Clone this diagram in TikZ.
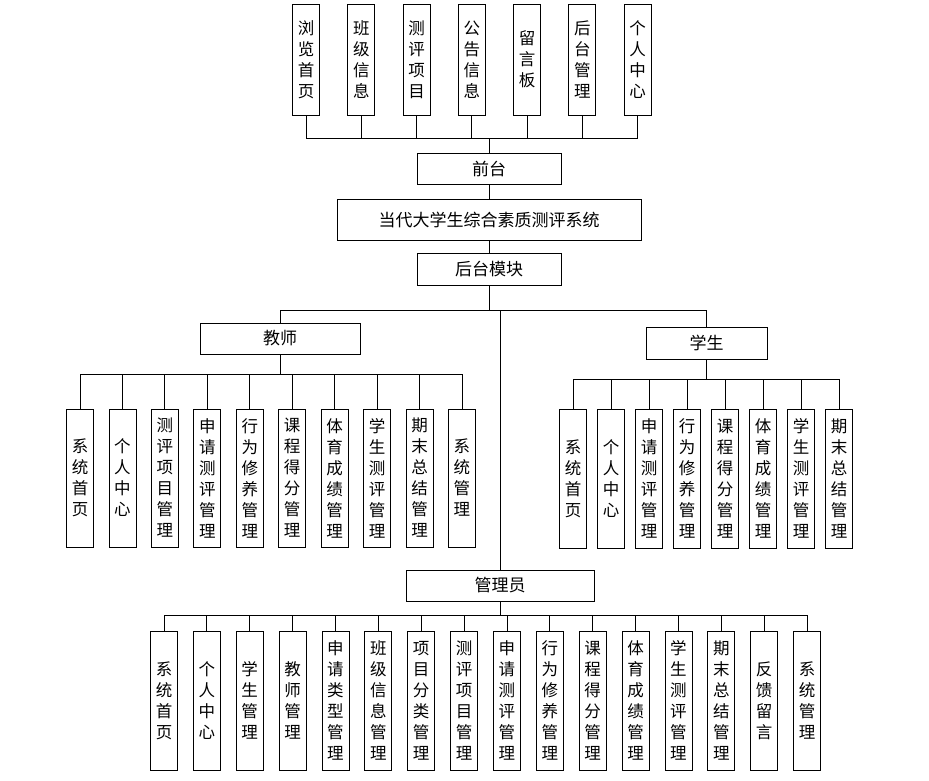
\documentclass[tikz,border=0pt]{standalone}
\usepackage{fontspec}
\newfontfamily\cjk{Noto Sans CJK SC}
\begin{document}
\begin{tikzpicture}[x=1pt,y=-1pt,line width=.8pt,
  vbox/.style={draw,minimum width=27,minimum height=139,inner sep=0pt,align=center,
    font=\cjk\fontsize{16.5}{21}\selectfont},
  hbox/.style={draw,inner sep=0pt,font=\cjk\fontsize{17}{21}\selectfont}]
\useasboundingbox (0,0) rectangle (929,780);
\node[hbox,minimum width=144,minimum height=31] (front) at (489,168.5) {前台};
\node[hbox,minimum width=304,minimum height=41] (sys) at (489,219.5) {当代大学生综合素质测评系统};
\node[hbox,minimum width=144,minimum height=32] (back) at (489,269) {后台模块};
\node[hbox,minimum width=160,minimum height=31] (teacher) at (280,338.5) {教师};
\node[hbox,minimum width=121,minimum height=32] (student) at (706.5,343) {学生};
\node[hbox,minimum width=188,minimum height=31] (admin) at (500,585.5) {管理员};
\foreach \t [count=\i] in {浏\\览\\首\\页,班\\级\\信\\息,测\\评\\项\\目,公\\告\\信\\息,
    留\\言\\板,后\\台\\管\\理,个\\人\\中\\心}
  \node[vbox,minimum height=111] (t\i) at ({306+55.25*(\i-1)},59.5) {\t};
\foreach \t [count=\i] in {系\\统\\首\\页,个\\人\\中\\心,测\\评\\项\\目\\管\\理,
    申\\请\\测\\评\\管\\理,行\\为\\修\\养\\管\\理,课\\程\\得\\分\\管\\理,
    体\\育\\成\\绩\\管\\理,学\\生\\测\\评\\管\\理,期\\末\\总\\结\\管\\理,系\\统\\管\\理}
  \node[vbox,minimum height=138] (te\i) at ({80+42.44*(\i-1)},478) {\t};
\foreach \t [count=\i] in {系\\统\\首\\页,个\\人\\中\\心,申\\请\\测\\评\\管\\理,
    行\\为\\修\\养\\管\\理,课\\程\\得\\分\\管\\理,体\\育\\成\\绩\\管\\理,
    学\\生\\测\\评\\管\\理,期\\末\\总\\结\\管\\理}
  \node[vbox] (st\i) at ({573+38*(\i-1)},478.5) {\t};
\foreach \t [count=\i] in {系\\统\\首\\页,个\\人\\中\\心,学\\生\\管\\理,教\\师\\管\\理,
    申\\请\\类\\型\\管\\理,班\\级\\信\\息\\管\\理,项\\目\\分\\类\\管\\理,
    测\\评\\项\\目\\管\\理,申\\请\\测\\评\\管\\理,行\\为\\修\\养\\管\\理,
    课\\程\\得\\分\\管\\理,体\\育\\成\\绩\\管\\理,学\\生\\测\\评\\管\\理,
    期\\末\\总\\结\\管\\理,反\\馈\\留\\言,系\\统\\管\\理}
  \node[vbox] (ad\i) at ({164+42.87*(\i-1)},700.5) {\t};
\foreach \i in {1,...,7}
  \draw (t\i.south) -- ++(0,23) -| (front.north);
\draw (front) -- (sys);
\draw (sys) -- (back);
\draw (back.south) -- ++(0,25) -| (teacher.north);
\draw (back.south) -- ++(0,25) -| (student.north);
\draw (back.south) -- ++(0,25) -| (admin.north);
\foreach \i in {1,...,10}
  \draw (teacher.south) -- ++(0,20) -| (te\i.north);
\foreach \i in {1,...,8}
  \draw (student.south) -- ++(0,20) -| (st\i.north);
\foreach \i in {1,...,16}
  \draw (admin.south) -- ++(0,14) -| (ad\i.north);
\end{tikzpicture}
\end{document}
